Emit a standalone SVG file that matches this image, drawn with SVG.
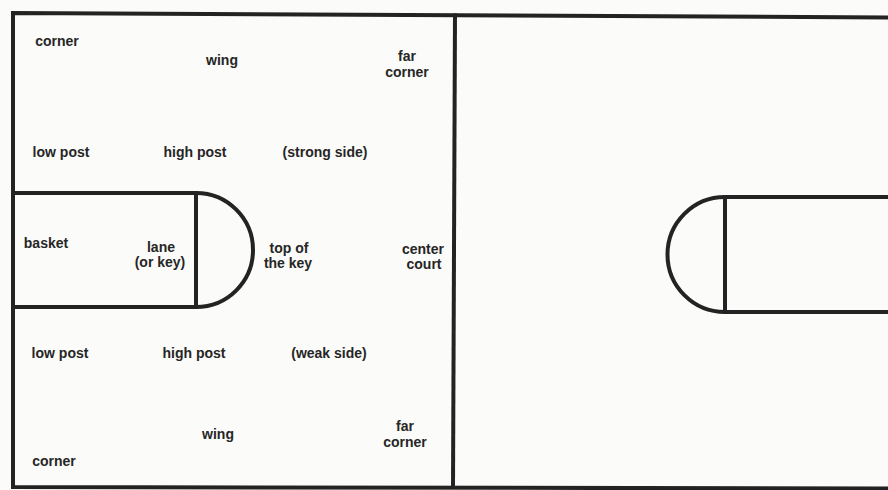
<svg xmlns="http://www.w3.org/2000/svg" width="888" height="490" viewBox="0 0 888 490">
  <style>
    .ln { fill: none; stroke: #232323; stroke-width: 4; stroke-linejoin: miter; }
    .t { font-family: "Liberation Sans", Arial, sans-serif; font-weight: bold; font-size: 14px; fill: #262626; text-anchor: middle; }
  </style>
  <rect x="0" y="0" width="888" height="490" fill="#fbfbf9"/>
  <g id="court">
    <polyline class="ln" points="888,17.5 13,13 13,487 888,488.5"/>
    <line class="ln" x1="455" y1="13.5" x2="453" y2="488"/>
  </g>
  <g id="left-key">
    <path class="ln" d="M13,193 L196,193 L196,307 L13,307"/>
    <path class="ln" d="M196,193 A57,57 0 0 1 196,307"/>
  </g>
  <g id="right-key">
    <path class="ln" d="M888,197 L725,197 L725,312 L888,312"/>
    <path class="ln" d="M725,197 A57.5,57.5 0 0 0 725,312"/>
  </g>
  <g id="labels">
    <g id="corner-top"><text class="t" x="57" y="46">corner</text></g>
    <g id="wing-top"><text class="t" x="222" y="65">wing</text></g>
    <g id="far-corner-top"><text class="t" x="407" y="61">far</text><text class="t" x="407" y="77">corner</text></g>
    <g id="low-post-top"><text class="t" x="61" y="157">low post</text></g>
    <g id="high-post-top"><text class="t" x="195" y="157">high post</text></g>
    <g id="strong-side"><text class="t" x="325" y="157">(strong side)</text></g>
    <g id="basket"><text class="t" x="46" y="248">basket</text></g>
    <g id="lane"><text class="t" x="161" y="252">lane</text><text class="t" x="160" y="267">(or key)</text></g>
    <g id="top-of-key"><text class="t" x="289" y="253">top of</text><text class="t" x="288" y="268">the key</text></g>
    <g id="center-court"><text class="t" x="423" y="254">center</text><text class="t" x="424" y="269">court</text></g>
    <g id="low-post-bottom"><text class="t" x="60" y="358">low post</text></g>
    <g id="high-post-bottom"><text class="t" x="194" y="358">high post</text></g>
    <g id="weak-side"><text class="t" x="329" y="358">(weak side)</text></g>
    <g id="wing-bottom"><text class="t" x="218" y="439">wing</text></g>
    <g id="far-corner-bottom"><text class="t" x="405" y="431">far</text><text class="t" x="405" y="447">corner</text></g>
    <g id="corner-bottom"><text class="t" x="54" y="466">corner</text></g>
  </g>
</svg>
